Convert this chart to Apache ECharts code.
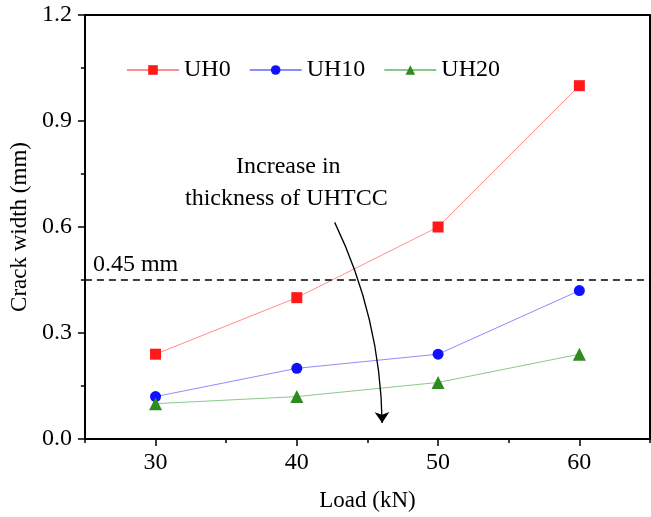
<!DOCTYPE html>
<html>
<head>
<meta charset="utf-8">
<script src="https://cdn.jsdelivr.net/npm/echarts@6/dist/echarts.min.js"></script>
<style>html,body{margin:0;padding:0;background:#fff}#c{width:651px;height:517px}</style>
</head>
<body>
<div id="c"></div>
<script>
const loads = [30, 40, 50, 60];
const uh0 = [0.24, 0.40, 0.60, 1.00];
const uh10 = [0.12, 0.20, 0.24, 0.42];
const uh20 = [0.10, 0.12, 0.16, 0.24];
const limitValue = 0.45;
const limitLabel = '0.45 mm';
const xTicks = [30, 40, 50, 60];
const arrowCoords = [[42.68, 0.613], [46.04, 0.045]];

const FONT = "'Liberation Serif', 'Times New Roman', serif";
const chart = echarts.init(document.getElementById('c'), null, {renderer: 'canvas'});

function pairs(ys) { return loads.map((x, i) => [x, ys[i]]); }

const axisLine = {show: true, lineStyle: {color: '#000', width: 2}};

chart.setOption({
  animation: false,
  backgroundColor: '#fff',
  grid: {left: 80, right: 1, top: 15, bottom: 77, containLabel: false},
  legend: {
    left: 121, top: 53, itemWidth: 52, itemHeight: 12, itemGap: 18,
    textStyle: {fontFamily: FONT, fontSize: 24, color: '#000', padding: [2, 0, 0, 0]},
    data: ['UH0', 'UH10', 'UH20']
  },
  xAxis: [
    {
      type: 'value', min: 25, max: 65, position: 'bottom',
      name: 'Load (kN)', nameLocation: 'middle', nameGap: 50,
      nameTextStyle: {fontFamily: FONT, fontSize: 23, color: '#000'},
      axisLine: axisLine,
      axisTick: {show: true, inside: false, length: 7, customValues: xTicks, lineStyle: {color: '#000', width: 1.5}},
      axisLabel: {customValues: xTicks, fontFamily: FONT, fontSize: 24, color: '#000', margin: 12},
      splitLine: {show: false}
    },
    {
      type: 'value', min: 25, max: 65, interval: 5, position: 'bottom',
      axisLine: {show: false},
      axisTick: {show: true, inside: false, length: 4, lineStyle: {color: '#000', width: 1.5}},
      axisLabel: {show: false}, splitLine: {show: false}
    },
    {
      type: 'value', min: 25, max: 65, position: 'top',
      axisLine: axisLine, axisTick: {show: false}, axisLabel: {show: false}, splitLine: {show: false}
    }
  ],
  yAxis: [
    {
      type: 'value', min: 0, max: 1.2, interval: 0.3, position: 'left',
      name: 'Crack width (mm)', nameLocation: 'middle', nameGap: 52,
      nameTextStyle: {fontFamily: FONT, fontSize: 23, color: '#000'},
      axisLine: axisLine,
      axisTick: {show: true, inside: false, length: 7, lineStyle: {color: '#000', width: 1.5}},
      minorTick: {show: true, splitNumber: 2, length: 4, lineStyle: {color: '#000', width: 1.5}},
      axisLabel: {fontFamily: FONT, fontSize: 24, color: '#000', margin: 13, formatter: v => v.toFixed(1)},
      splitLine: {show: false}, minorSplitLine: {show: false}
    },
    {
      type: 'value', min: 0, max: 1.2, position: 'right',
      axisLine: axisLine, axisTick: {show: false}, axisLabel: {show: false}, splitLine: {show: false}
    }
  ],
  graphic: [
    {type: 'text', left: 236, top: 155, style: {text: 'Increase in', font: '24px ' + FONT, fill: '#000'}},
    {type: 'text', left: 185, top: 187, style: {text: 'thickness of UHTCC', font: '24px ' + FONT, fill: '#000'}}
  ],
  series: [
    {
      name: 'UH0', type: 'line', data: pairs(uh0),
      symbol: 'rect', symbolSize: 11,
      itemStyle: {color: '#ff1a1a'}, lineStyle: {color: '#ff8c8c', width: 1},
      markLine: {
        silent: true, symbol: ['none', 'none'],
        lineStyle: {color: '#000', type: [7, 5], width: 1.5},
        label: {show: true, position: 'insideStartTop', formatter: limitLabel, fontFamily: FONT, fontSize: 24, color: '#000', distance: [8, 3]},
        data: [{yAxis: limitValue}]
      },
      z: 3
    },
    {
      name: 'UH10', type: 'line', data: pairs(uh10),
      symbol: 'circle', symbolSize: 11,
      itemStyle: {color: '#1010ff'}, lineStyle: {color: '#8c8cff', width: 1},
      z: 3
    },
    {
      name: 'UH20', type: 'line', data: pairs(uh20),
      symbol: 'triangle', symbolSize: 13,
      itemStyle: {color: '#2e8b1e'}, lineStyle: {color: '#8cc88c', width: 1},
      z: 3
    },
    {
      type: 'lines', coordinateSystem: 'cartesian2d', xAxisIndex: 0, yAxisIndex: 0,
      symbol: ['none', 'arrow'], symbolSize: [6, 11],
      lineStyle: {color: '#000', width: 1.3, curveness: 0.11, opacity: 1},
      silent: true,
      data: [{coords: arrowCoords}],
      z: 4
    }
  ]
});
</script>
</body>
</html>
